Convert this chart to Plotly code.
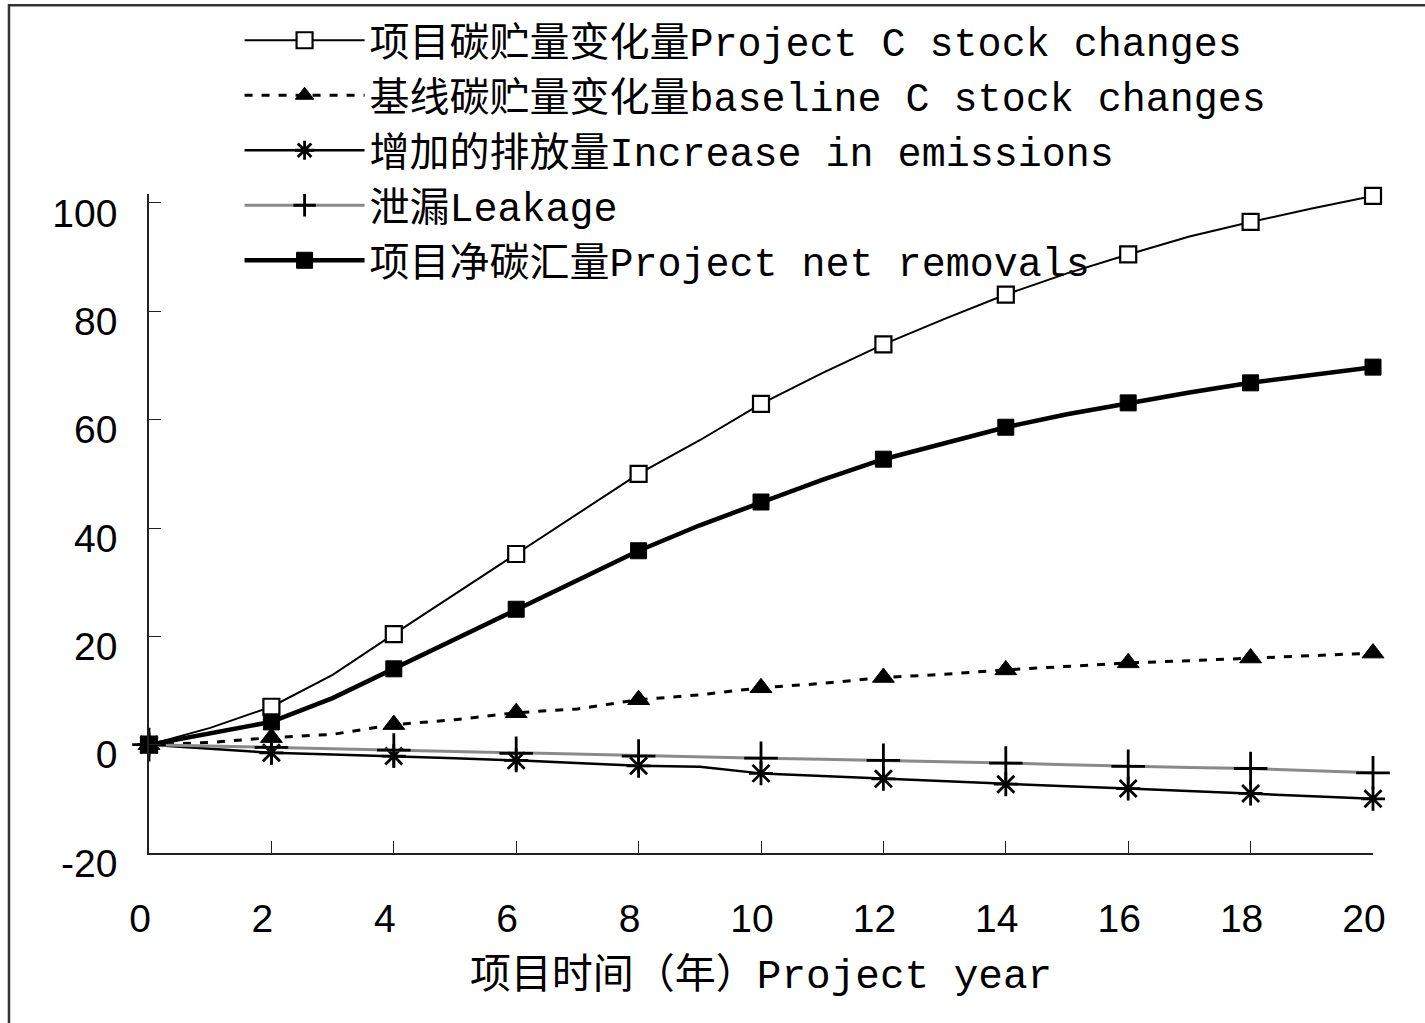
import plotly.graph_objects as go

years = list(range(0, 21))
x_tick_vals = list(range(0, 21, 2))
x_tick_labels = [str(v) for v in x_tick_vals]
y_tick_vals = [-20, 0, 20, 40, 60, 80, 100]
y_tick_labels = ["-20", "0", "20", "40", "60", "80", "100"]

project_c = [0, 3.1, 7.0, 12.9, 20.4, 27.8, 35.2, 42.6, 50.0, 56.2, 62.9,
             68.6, 73.9, 78.6, 83.1, 87.0, 90.5, 93.8, 96.5, 99.0, 101.3]
baseline_c = [0, 0.4, 1.3, 1.9, 3.7, 4.6, 5.9, 6.6, 8.3, 9.2, 10.5,
              11.3, 12.4, 13.0, 13.8, 14.4, 15.1, 15.5, 16.0, 16.4, 16.9]
emissions = [0, -0.8, -1.5, -1.8, -2.1, -2.5, -2.9, -3.4, -3.9, -4.1, -5.3,
             -5.8, -6.3, -6.8, -7.3, -7.7, -8.1, -8.6, -9.0, -9.5, -10.0]
leakage = [0, -0.25, -0.5, -0.75, -1.0, -1.3, -1.6, -1.85, -2.1, -2.3, -2.5,
           -2.7, -2.9, -3.15, -3.4, -3.7, -4.0, -4.2, -4.4, -4.8, -5.2]
net_removals = [0, 2.1, 4.2, 8.6, 14.0, 19.5, 25.0, 30.2, 35.8, 40.5, 44.8,
                48.9, 52.7, 55.7, 58.6, 61.0, 63.1, 65.0, 66.8, 68.3, 69.7]

names = [
    "项目碳贮量变化量Project C stock changes",
    "基线碳贮量变化量baseline C stock changes",
    "增加的排放量Increase in emissions",
    "泄漏Leakage",
    "项目净碳汇量Project net removals",
]
x_title = "项目时间（年）Project year"

TXT_FONT = "Liberation Mono, Noto Sans CJK SC, monospace"
NUM_FONT = "Liberation Sans, Arial, sans-serif"
CLEAR = "rgba(0,0,0,0)"


def every_other(on, off):
    return [on if y % 2 == 0 else off for y in years]


fig = go.Figure()

fig.add_trace(go.Scatter(
    x=years, y=project_c, name=names[0], mode="lines+markers", cliponaxis=False,
    line=dict(color="black", width=2),
    marker=dict(symbol="square", size=16, color=every_other("white", CLEAR),
                line=dict(color=every_other("black", CLEAR), width=2.2)),
))
fig.add_trace(go.Scatter(
    x=years, y=baseline_c, name=names[1], mode="lines+markers", cliponaxis=False,
    line=dict(color="black", width=3, dash="8px,9px"),
    marker=dict(symbol="triangle-up", size=19, color=every_other("black", CLEAR),
                line=dict(color=every_other("black", CLEAR), width=1)),
))
fig.add_trace(go.Scatter(
    x=years, y=emissions, name=names[2], mode="lines+markers", cliponaxis=False,
    line=dict(color="black", width=2.5),
    marker=dict(symbol="asterisk-open", size=20, color=every_other("black", CLEAR),
                line=dict(color=every_other("black", CLEAR), width=2.8)),
))
fig.add_trace(go.Scatter(
    x=years, y=leakage, name=names[3], mode="lines+markers", cliponaxis=False,
    line=dict(color="#8a8a8a", width=3),
    marker=dict(symbol="cross-thin-open", size=24, color=every_other("black", CLEAR),
                line=dict(color=every_other("black", CLEAR), width=2.8)),
))
fig.add_trace(go.Scatter(
    x=years, y=net_removals, name=names[4], mode="lines+markers", cliponaxis=False,
    line=dict(color="black", width=4.5),
    marker=dict(symbol="square", size=16, color=every_other("black", CLEAR),
                line=dict(color=every_other("black", CLEAR), width=1)),
))

fig.update_layout(
    width=1425, height=1023,
    margin=dict(l=149, r=52, t=194, b=170, autoexpand=False),
    paper_bgcolor="white", plot_bgcolor="white",
    showlegend=True,
    legend=dict(
        x=0.074, y=1.2826, xanchor="left", yanchor="top",
        font=dict(family=TXT_FONT, size=40, color="black"),
        bgcolor=CLEAR, borderwidth=0, itemwidth=120, tracegroupgap=0,
    ),
    xaxis=dict(
        range=[0, 20], tickmode="array", tickvals=x_tick_vals, ticktext=x_tick_labels,
        ticks="inside", ticklen=12, tickwidth=1.3, tickcolor="#222",
        showline=True, linecolor="#222", linewidth=1.5,
        showgrid=False, zeroline=False,
        tickfont=dict(family=NUM_FONT, size=39, color="black"),
        ticklabelstandoff=30, ticklabelshift=-9,
        title=dict(text=x_title, font=dict(family=TXT_FONT, size=41, color="black"), standoff=21),
    ),
    yaxis=dict(
        range=[-20, 101.66], tickmode="array", tickvals=y_tick_vals, ticktext=y_tick_labels,
        ticks="inside", ticklen=12, tickwidth=1.3, tickcolor="#222",
        showline=True, linecolor="#222", linewidth=1.5,
        showgrid=False, zeroline=False,
        tickfont=dict(family=NUM_FONT, size=39, color="black"),
        ticklabelstandoff=22, ticklabelshift=10,
    ),
    shapes=[dict(type="rect", xref="paper", yref="paper",
                 x0=-0.1144, x1=1.2, y0=-0.5, y1=1.2864,
                 line=dict(color="#333", width=2.5), fillcolor=CLEAR, layer="below")],
)

fig.write_html("out.html", config={"displayModeBar": False},
               post_script="document.body.style.margin='0';")
